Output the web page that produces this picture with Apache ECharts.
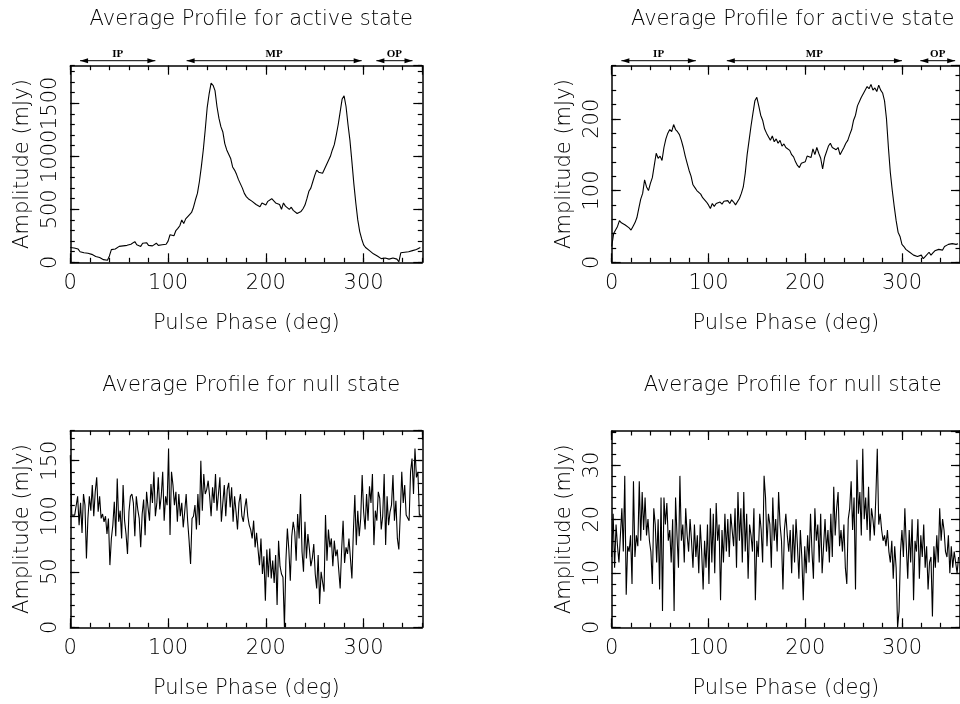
<!DOCTYPE html>
<html><head><meta charset="utf-8">
<script src="https://cdn.jsdelivr.net/npm/echarts@6/dist/echarts.min.js"></script>
<style>html,body{margin:0;padding:0;background:#fff}#c{width:960px;height:704px}</style>
</head><body><div id="c"></div>
<script>
// ---------------- data ----------------
const titles = ['Average Profile for active state', 'Average Profile for active state',
                'Average Profile for null state', 'Average Profile for null state'];
const xName = 'Pulse Phase (deg)';
const yName = 'Amplitude (mJy)';

const phaseStepActive = 2;   // deg per bin (active profiles)
const phaseStepNull = 1.5;   // deg per bin (null profiles)

const activeLeft = [
 140,150,135,120,125,100,95,90,80,85,
 70,75,60,55,50,45,30,25,35,20,
 60,120,135,125,140,150,135,155,145,160,
 150,170,160,195,165,175,150,180,165,185,
 160,175,155,170,180,160,175,165,180,170,
 200,260,275,250,300,320,345,400,365,410,
 420,450,470,520,590,650,760,900,1060,1250,
 1460,1590,1690,1670,1620,1470,1360,1280,1230,1120,
 1060,1020,980,900,870,830,780,740,700,650,
 620,600,590,575,560,545,550,525,560,555,
 540,575,560,600,585,560,570,545,500,560,
 530,545,500,520,490,475,460,470,480,505,
 540,600,670,700,760,820,870,850,860,840,
 880,920,960,1000,1060,1110,1200,1300,1420,1540,
 1570,1470,1300,1150,950,740,560,400,290,220,
 165,140,125,110,100,80,70,60,45,35,
 50,40,55,30,45,40,35,30,5,90,
 85,95,80,100,90,110,105,120,110,140
];
const activeRight = [
 22,40,45,50,58,55,57,52,50,48,
 45,50,55,62,75,88,96,115,105,100,
 110,118,135,152,145,148,142,160,172,180,
 185,182,192,185,182,178,170,160,148,138,
 128,120,108,104,100,98,95,90,92,84,
 80,75,82,78,82,80,84,81,85,83,
 86,82,87,84,80,78,89,96,105,124,
 150,170,190,208,225,230,218,205,198,186,
 180,175,170,176,168,172,166,170,162,165,
 160,158,156,150,147,140,135,132,138,136,
 140,148,150,146,158,150,160,152,145,130,
 146,148,162,166,160,158,157,160,150,152,
 160,166,170,178,185,198,205,218,220,230,
 235,236,245,242,248,240,243,238,247,240,
 236,225,200,160,125,100,78,58,42,36,
 25,22,18,17,14,12,10,9,8,6,
 10,5,8,6,14,10,13,16,15,18,
 20,17,22,20,25,23,26,24,25,26
];
const nullLeft = [
 155,101,101,101,101,118,92,112,85,120,
 110,62,98,118,105,128,100,122,135,104,
 118,98,102,95,100,84,98,56,80,92,
 113,82,134,95,105,80,128,96,84,66,
 104,118,120,112,82,118,106,98,72,102,
 115,83,122,108,96,129,112,140,100,112,
 135,106,118,140,96,118,110,161,83,140,
 128,110,122,95,120,100,112,90,104,120,
 96,78,57,98,100,110,88,120,92,150,
 105,138,120,124,132,118,100,126,112,138,
 105,120,135,95,112,128,100,124,130,108,
 126,95,118,104,88,112,120,100,95,108,
 116,100,92,88,80,96,72,85,70,56,
 80,48,64,24,70,45,71,44,60,40,
 65,20,78,55,48,45,0,60,89,70,
 42,82,95,86,60,102,80,120,68,50,
 95,62,84,71,55,62,75,48,35,65,
 21,50,41,32,101,60,88,72,80,55,
 78,64,70,52,35,70,96,58,72,66,
 80,62,44,86,119,74,105,82,98,137,
 104,88,120,96,127,112,138,74,105,96,
 122,116,88,100,138,74,118,92,104,110,
 137,96,114,80,70,102,140,112,128,101,
 100,96,140,152,120,161,135,140,101,101
];
const nullRight = [
 13,21,11,19,15,12,17,22,14,28,
 6,15,14,17,8,27,13,17,15,27,
 16,25,18,24,17,20,16,14,8,22,
 19,12,20,7,24,3,24,19,23,16,
 18,12,20,3,24,17,11,28,16,19,
 12,22,17,14,20,16,11,19,13,17,
 10,19,14,7,16,11,19,8,22,12,
 21,10,23,16,19,5,18,12,21,14,
 20,13,21,18,15,22,11,25,16,22,
 12,25,14,21,9,19,17,14,22,5,
 16,13,21,18,12,28,24,15,21,19,
 11,24,16,20,14,25,19,16,7,18,
 21,17,14,18,10,19,12,20,15,9,
 18,13,5,15,10,17,12,21,14,9,
 22,16,19,12,21,10,15,20,14,18,
 12,21,13,26,17,22,25,15,18,14,
 19,11,8,20,22,27,18,24,7,31,
 21,25,17,33,20,24,18,26,16,22,
 20,17,24,33,19,21,18,16,17,15,
 18,14,12,16,9,15,11,0,3,14,
 18,13,22,15,9,18,12,20,5,16,
 14,20,9,17,13,19,11,15,7,12,
 13,2,15,11,17,12,22,16,20,18,
 14,13,17,10,15,11,14,12,10,13
];

// component regions marked above the active-state profiles (deg)
const regionNames = ['IP', 'MP', 'OP'];
const regionStartLeft = [10, 119, 313];
const regionEndLeft = [87, 298, 350];
const regionStartRight = [10, 119, 319];
const regionEndRight = [87, 300, 355];

// axis ranges / ticks
const xMax = 360, xMajor = 100, xMinor = 20;
const yMaxes = [1855, 274, 177, 36.3];
const yMajors = [500, 100, 50, 10];
const yMinors = [100, 20, 10, 2];

// ---------------- layout / style ----------------
const FONT = "'DejaVu Sans', sans-serif";
const TXT = {fontSize: 21, fontFamily: FONT, fontWeight: 200, color: '#000'};
const grids = [
  {left: 70.3, top: 65.7, width: 352, height: 196.6},
  {left: 611.7, top: 65.7, width: 352, height: 196.6},
  {left: 70.3, top: 430.7, width: 352, height: 196.6},
  {left: 611.7, top: 431, width: 352, height: 196.3}
];

function pairs(vals, step) { return vals.map((v, i) => [i * step, v]); }

function makeX(gi, pos, major) {
  const lab = major && pos === 'bottom';
  return {
    gridIndex: gi, type: 'value', position: pos, min: 0, max: xMax,
    interval: major ? xMajor : xMinor,
    axisLine: {show: major, onZero: false, lineStyle: {color: '#000', width: 1.5}},
    axisTick: {show: true, inside: true, length: major ? 9 : 4.5, lineStyle: {color: '#000', width: 1.2}},
    axisLabel: Object.assign({show: lab, margin: 11, showMaxLabel: false, formatter: v => String(v)}, TXT),
    splitLine: {show: false},
    name: lab ? xName : '', nameLocation: 'middle', nameGap: 51, nameTextStyle: TXT
  };
}
function makeY(gi, pos, major) {
  const lab = major && pos === 'left';
  return {
    gridIndex: gi, type: 'value', position: pos, min: 0, max: yMaxes[gi],
    interval: major ? yMajors[gi] : yMinors[gi],
    axisLine: {show: major, onZero: false, lineStyle: {color: '#000', width: 1.5}},
    axisTick: {show: true, inside: true, length: major ? 9 : 4.5, lineStyle: {color: '#000', width: 1.2}},
    axisLabel: Object.assign({show: lab, rotate: 90, margin: 9, showMaxLabel: false, formatter: v => String(v)}, TXT),
    splitLine: {show: false},
    name: lab ? yName : '', nameLocation: 'middle', nameGap: 37, nameTextStyle: TXT
  };
}

const xAxis = [], yAxis = [];
for (let g = 0; g < 4; g++) {
  xAxis.push(makeX(g, 'bottom', true), makeX(g, 'bottom', false), makeX(g, 'top', true), makeX(g, 'top', false));
  yAxis.push(makeY(g, 'left', true), makeY(g, 'left', false), makeY(g, 'right', true), makeY(g, 'right', false));
}

const profiles = [
  pairs(activeLeft, phaseStepActive), pairs(activeRight, phaseStepActive),
  pairs(nullLeft, phaseStepNull), pairs(nullRight, phaseStepNull)
];

const series = profiles.map((d, g) => ({
  type: 'line', xAxisIndex: g * 4, yAxisIndex: g * 4, data: d,
  showSymbol: false, symbol: 'none', lineStyle: {color: '#000', width: 1.1}, silent: true
}));

function regionSeries(g, starts, ends) {
  return {
    type: 'custom', xAxisIndex: g * 4, yAxisIndex: g * 4, clip: false, silent: true,
    encode: {x: [0, 1], y: 2},
    data: starts.map((s, i) => [s, ends[i], 0]),
    renderItem: (params, api) => {
      const xa = api.coord([api.value(0), 0])[0];
      const xb = api.coord([api.value(1), 0])[0];
      const y = params.coordSys.y - 5;
      return {type: 'group', children: [
        {type: 'line', shape: {x1: xa, y1: y, x2: xb, y2: y}, style: {stroke: '#000', lineWidth: 1}},
        {type: 'polygon', shape: {points: [[xa, y], [xa + 8, y - 2.5], [xa + 8, y + 2.5]]}, style: {fill: '#000'}},
        {type: 'polygon', shape: {points: [[xb, y], [xb - 8, y - 2.5], [xb - 8, y + 2.5]]}, style: {fill: '#000'}},
        {type: 'text', style: {text: regionNames[params.dataIndex], x: (xa + xb) / 2, y: y - 1,
          align: 'center', verticalAlign: 'bottom', fontSize: 11, fontFamily: "'Liberation Serif', serif",
          fontWeight: 'bold', fill: '#000'}}
      ]};
    }
  };
}
series.push(regionSeries(0, regionStartLeft, regionEndLeft));
series.push(regionSeries(1, regionStartRight, regionEndRight));

const title = grids.map((gr, i) => ({
  text: titles[i], left: gr.left + gr.width / 2, top: i < 2 ? 4 : 370, textAlign: 'center',
  textStyle: Object.assign({}, TXT)
}));

const chart = echarts.init(document.getElementById('c'), null, {renderer: 'canvas'});
chart.setOption({
  animation: false, backgroundColor: '#fff',
  title, grid: grids, xAxis, yAxis, series
});
</script></body></html>
